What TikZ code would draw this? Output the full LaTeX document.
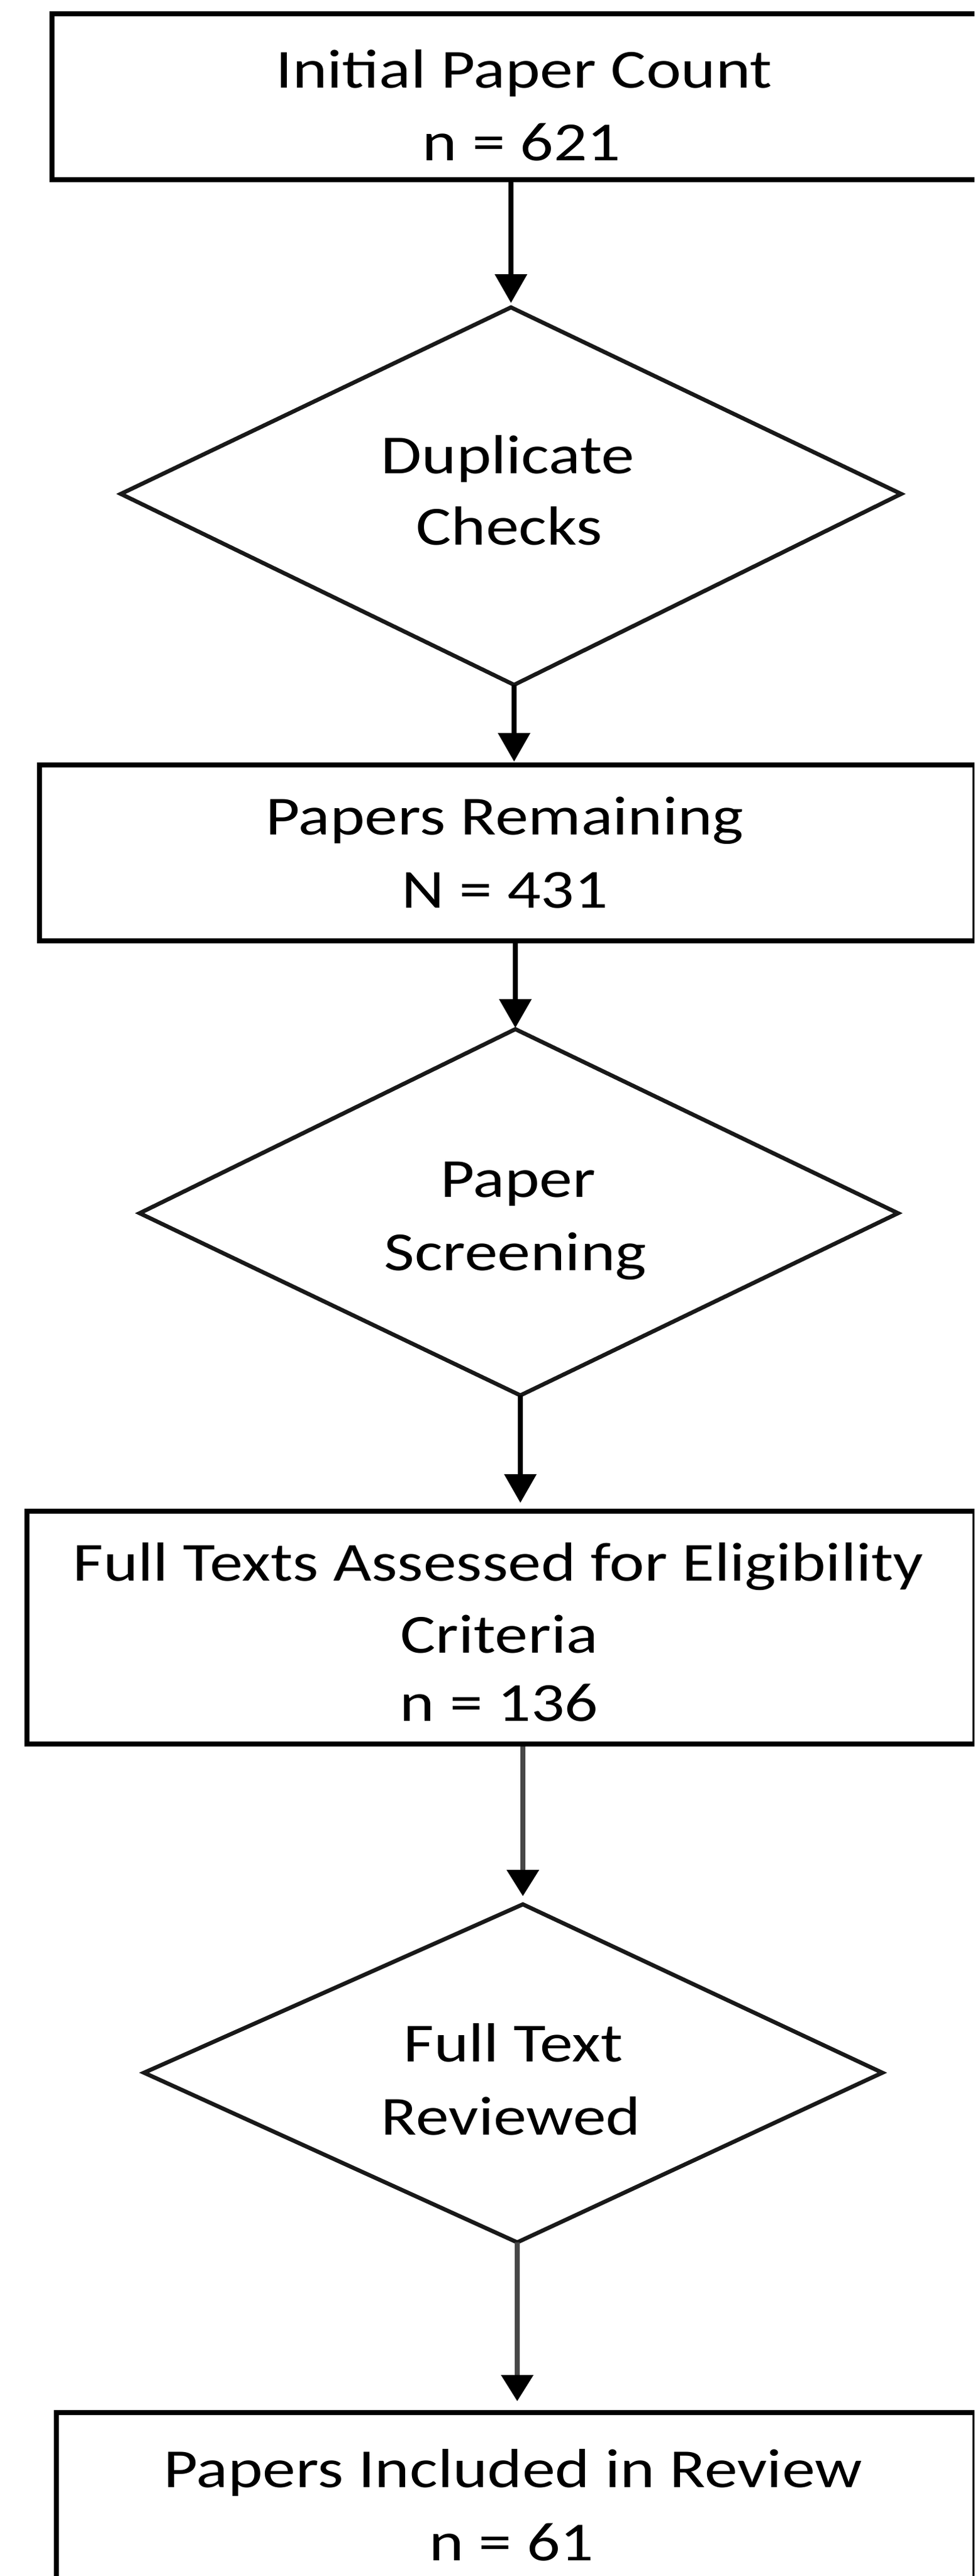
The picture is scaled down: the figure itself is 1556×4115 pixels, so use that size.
\documentclass[tikz,border=0pt]{standalone}
\usepackage{fontspec}
\setmainfont{Carlito}[FakeStretch=1.2]
\usetikzlibrary{arrows.meta}
\tikzset{
  boxst/.style={draw=black, line width=8.5pt, rectangle, inner sep=0pt, fill=none},
  decst/.style={draw=black!90, line width=6.5pt, line join=miter},
  txt/.style={anchor=base, inner sep=0pt, text=black, font=\fontsize{88}{114}\selectfont},
  flow/.style={draw=black, line width=8pt, -{Triangle[width=50pt,length=46pt,color=black]}},
  flowgray/.style={draw=black!72, line width=8pt, -{Triangle[width=50pt,length=42pt,color=black]}}
}
\begin{document}
\begin{tikzpicture}[x=1pt,y=-1pt]
\useasboundingbox (0,0) rectangle (1556,4115);
\fill[white] (0,0) rectangle (1556,4115);
\clip (0,0) rectangle (1556,4115);

% boxes
\node[boxst, minimum width=1492pt, minimum height=265pt] (b1) at (829,154.5) {};
\node[boxst, minimum width=1494pt, minimum height=281pt] (b2) at (810,1362.5) {};
\node[boxst, minimum width=1514pt, minimum height=372pt] (b3) at (800,2600) {};
\node[boxst, minimum width=1467pt, minimum height=286pt] (b4) at (823.5,3997) {};

% diamonds
\coordinate (d1t) at (816,491);
\coordinate (d1r) at (1439,789);
\coordinate (d1b) at (821,1094);
\coordinate (d1l) at (193,789);
\draw[decst] (d1t) -- (d1r) -- (d1b) -- (d1l) -- cycle;

\coordinate (d2t) at (823,1644);
\coordinate (d2r) at (1434,1938);
\coordinate (d2b) at (831,2229);
\coordinate (d2l) at (223,1938);
\draw[decst] (d2t) -- (d2r) -- (d2b) -- (d2l) -- cycle;

\coordinate (d3t) at (835,3042);
\coordinate (d3r) at (1409,3311);
\coordinate (d3b) at (826,3582);
\coordinate (d3l) at (230,3311);
\draw[decst] (d3t) -- (d3r) -- (d3b) -- (d3l) -- cycle;

% texts
\node[txt] (t1a) at (837,140) {Initial Paper Count};
\node[txt] (t1b) at (833,256) {n = 621};
\node[txt] (t2a) at (811,756) {Duplicate};
\node[txt] (t2b) at (813,870) {Checks};
\node[txt] (t3a) at (806,1333) {Papers Remaining};
\node[txt] (t3b) at (806,1450) {N = 431};
\node[txt] (t4a) at (827,1912) {Paper};
\node[txt] (t4b) at (823,2029) {Screening};
\node[txt] (t5a) at (796,2525) {Full Texts Assessed for Eligibility};
\node[txt] (t5b) at (797,2640) {Criteria};
\node[txt] (t5c) at (797,2749) {n = 136};
\node[txt] (t6a) at (820,3293) {Full Text};
\node[txt] (t6b) at (816,3410) {Reviewed};
\node[txt] (t7a) at (819,3973) {Papers Included in Review};
\node[txt] (t7b) at (817,4090) {n = 61};

% connectors
\draw[flow, shorten >=7pt] (d1t |- b1.south) -- (d1t);
\draw[flow, shorten >=1pt] (d1b) -- (d1b |- b2.north);
\draw[flow, shorten >=2pt] (d2t |- b2.south) -- (d2t);
\draw[flow, shorten >=9pt] (d2b) -- (d2b |- b3.north);
\draw[flowgray, shorten >=13pt] (d3t |- b3.south) -- (d3t);
\draw[flowgray, shorten >=14pt] (d3b) -- (d3b |- b4.north);
\end{tikzpicture}
\end{document}
